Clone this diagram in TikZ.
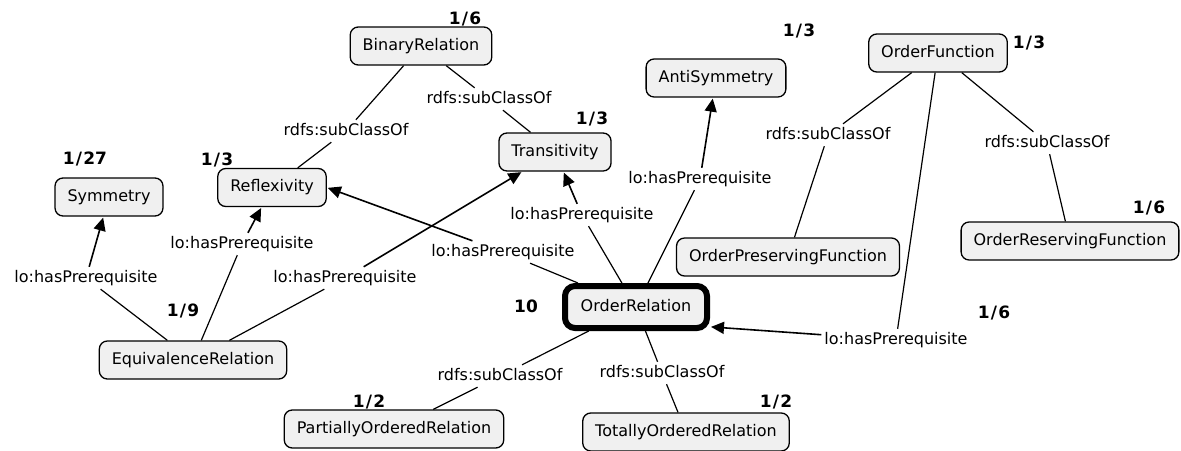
\documentclass[tikz,border=0pt]{standalone}
\usepackage{fontspec}
\setmainfont{DejaVu Sans}
\usetikzlibrary{arrows.meta}
\definecolor{boxgray}{RGB}{240,240,240}
\newcommand\frc[2]{#1\kern1.2pt/\kern1.2pt#2}
\begin{document}
\begin{tikzpicture}[x=1pt,y=-1pt,
  every node/.style={font=\fontsize{16}{19}\selectfont},
  concept/.style={draw=black, line width=1.3pt, rounded corners=8pt, fill=boxgray,
    text height=12pt, text depth=4pt, inner xsep=12.5pt, inner ysep=11pt},
  focus/.style={concept, line width=6pt, rounded corners=10pt,
    minimum width=142pt, minimum height=42pt},
  lbl/.style={inner sep=3pt, text height=12pt, text depth=4pt},
  num/.style={font=\fontsize{17}{20}\selectfont\bfseries, inner sep=0pt},
  plainline/.style={line width=1.2pt},
  arrline/.style={line width=1.6pt, shorten >=1pt, -{Triangle[length=13pt,width=12pt]}}
]
\useasboundingbox[fill=white] (0,0) rectangle (1181,450);

% concepts
\node[concept] (sym)  at (109,197)  {Symmetry};
\node[concept] (refl) at (272,187.5){Reflexivity};
\node[concept] (bin)  at (421,46)   {BinaryRelation};
\node[concept] (tra)  at (555,152)  {Transitivity};
\node[concept] (anti) at (716,78)   {AntiSymmetry};
\node[concept] (of)   at (938,53)   {OrderFunction};
\node[concept] (opf)  at (788,257)  {OrderPreservingFunction};
\node[concept] (orf)  at (1070,241) {OrderReservingFunction};
\node[concept] (eq)   at (193,360)  {EquivalenceRelation};
\node[focus]   (or)   at (636,307)  {OrderRelation};
\node[concept] (por)  at (394,429)  {PartiallyOrderedRelation};
\node[concept] (tor)  at (686,432)  {TotallyOrderedRelation};

% linking phrases
\node[lbl] (l1) at (86,278)  {lo:hasPrerequisite};
\node[lbl] (l2) at (242,244) {lo:hasPrerequisite};
\node[lbl] (l3) at (345,278) {lo:hasPrerequisite};
\node[lbl] (l4) at (503,252) {lo:hasPrerequisite};
\node[lbl] (l5) at (582,215) {lo:hasPrerequisite};
\node[lbl] (l6) at (700,179) {lo:hasPrerequisite};
\node[lbl] (l7) at (896,340) {lo:hasPrerequisite};
\node[lbl] (s1) at (346,131) {rdfs:subClassOf};
\node[lbl] (s2) at (489,99)  {rdfs:subClassOf};
\node[lbl] (s3) at (828,135) {rdfs:subClassOf};
\node[lbl] (s4) at (1047,143){rdfs:subClassOf};
\node[lbl] (s5) at (500,376) {rdfs:subClassOf};
\node[lbl] (s6) at (662,373) {rdfs:subClassOf};

% numbers
\node[num] (n1)  at (465,18.5) {\frc{1}{6}};
\node[num] (n2)  at (592,118.5){\frc{1}{3}};
\node[num] (n3)  at (85,159)   {\frc{1}{27}};
\node[num] (n4)  at (217,160)  {\frc{1}{3}};
\node[num] (n5)  at (799,31)   {\frc{1}{3}};
\node[num] (n6)  at (1029,43)  {\frc{1}{3}};
\node[num] (n7)  at (1149,207.5){\frc{1}{6}};
\node[num] (n8)  at (994,313)  {\frc{1}{6}};
\node[num] (n9)  at (183,310.5){\frc{1}{9}};
\node[num] (n10) at (526,306)  {10};
\node[num] (n11) at (369,402)  {\frc{1}{2}};
\node[num] (n12) at (776,402)  {\frc{1}{2}};

% subClassOf lines
\draw[plainline] (bin) -- (s1);  \draw[plainline] (s1) -- (refl);
\draw[plainline] (bin) -- (s2);  \draw[plainline] (s2) -- (tra);
\draw[plainline] (of) -- (s3);   \draw[plainline] (s3) -- (opf);
\draw[plainline] (of) -- (s4);   \draw[plainline] (s4) -- (orf);
\draw[plainline] (or) -- (s5);   \draw[plainline] (s5) -- (por);
\draw[plainline] (or) -- (s6);   \draw[plainline] (s6) -- (tor);

% hasPrerequisite connectors
\draw[plainline] (eq) -- (l1);  \draw[arrline] (l1) -- (sym);
\draw[plainline] (eq) -- (l2);  \draw[arrline] (l2) -- (refl);
\draw[plainline] (eq) -- (l3);  \draw[arrline] (l3) -- (tra);
\draw[plainline] (or) -- (l4);  \draw[arrline] (l4) -- (refl.east);
\draw[plainline] (or) -- (l5);  \draw[arrline] (l5) -- (tra);
\draw[plainline] (or) -- (l6);  \draw[arrline] (l6) -- (anti);
\draw[plainline] (of) -- (l7);  \draw[arrline] (l7) -- (or.-15);
\end{tikzpicture}
\end{document}
